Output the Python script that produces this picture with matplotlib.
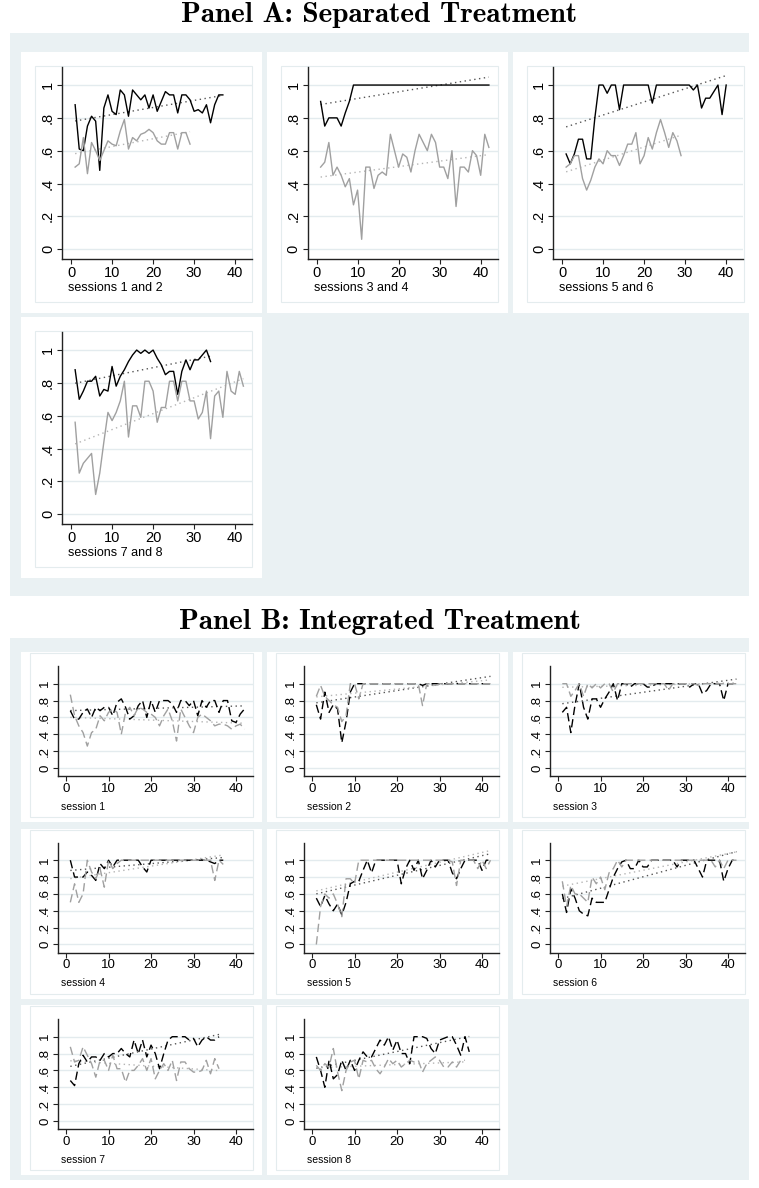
import numpy as np
import matplotlib.pyplot as plt
from matplotlib.patches import Rectangle

# Panel A: separated treatment (black = first session, gray = second session)
a12_black = [0.88, 0.61, 0.60, 0.75, 0.81, 0.78, 0.48, 0.86, 0.94, 0.84, 0.82, 0.97, 0.94, 0.81,
             0.97, 0.94, 0.91, 0.94, 0.86, 0.94, 0.84, 0.90, 0.96, 0.94, 0.94, 0.83, 0.94, 0.94,
             0.91, 0.84, 0.85, 0.83, 0.88, 0.77, 0.88, 0.94, 0.94]
a12_gray = [0.50, 0.52, 0.68, 0.46, 0.65, 0.60, 0.54, 0.60, 0.66, 0.64, 0.63, 0.72, 0.79, 0.61,
            0.68, 0.66, 0.70, 0.71, 0.73, 0.71, 0.66, 0.64, 0.64, 0.71, 0.71, 0.61, 0.71, 0.71, 0.64]
a34_black = [0.90, 0.75, 0.80, 0.80, 0.80, 0.75, 0.83, 0.90] + [1.0] * 34
a34_gray = [0.50, 0.53, 0.65, 0.45, 0.50, 0.45, 0.38, 0.43, 0.27, 0.36, 0.06, 0.50, 0.50, 0.37,
            0.45, 0.47, 0.45, 0.70, 0.60, 0.50, 0.58, 0.56, 0.47, 0.60, 0.70, 0.65, 0.60, 0.70,
            0.65, 0.50, 0.50, 0.43, 0.60, 0.26, 0.50, 0.50, 0.47, 0.60, 0.57, 0.45, 0.70, 0.62]
a56_black = [0.58, 0.52, 0.58, 0.67, 0.67, 0.55, 0.55, 0.80, 1.0, 1.0, 0.95, 1.0, 1.0, 0.85,
             1.0, 1.0, 1.0, 1.0, 1.0, 1.0, 1.0, 0.89, 1.0, 1.0, 1.0, 1.0, 1.0, 1.0, 1.0, 1.0,
             1.0, 0.97, 1.0, 0.86, 0.92, 0.92, 0.96, 1.0, 0.82, 1.0]
a56_gray = [0.50, 0.52, 0.57, 0.57, 0.43, 0.36, 0.42, 0.50, 0.55, 0.52, 0.60, 0.57, 0.57, 0.51,
            0.57, 0.64, 0.64, 0.71, 0.52, 0.57, 0.68, 0.61, 0.71, 0.79, 0.71, 0.62, 0.71, 0.66, 0.57]
a78_black = [0.88, 0.70, 0.75, 0.81, 0.81, 0.84, 0.72, 0.76, 0.75, 0.90, 0.78, 0.84, 0.88, 0.93,
             0.97, 1.0, 0.98, 1.0, 0.98, 1.0, 0.95, 0.91, 0.85, 0.87, 0.87, 0.73, 0.87, 0.94,
             0.88, 0.94, 0.94, 0.97, 1.0, 0.93]
a78_gray = [0.56, 0.25, 0.31, 0.34, 0.37, 0.12, 0.25, 0.44, 0.62, 0.57, 0.62, 0.69, 0.81, 0.47,
            0.66, 0.66, 0.59, 0.81, 0.81, 0.75, 0.56, 0.65, 0.65, 0.81, 0.81, 0.69, 0.81, 0.81,
            0.69, 0.69, 0.58, 0.62, 0.75, 0.46, 0.72, 0.75, 0.59, 0.87, 0.75, 0.73, 0.87, 0.78]
notes_a = ['sessions 1 and 2', 'sessions 3 and 4', 'sessions 5 and 6', 'sessions 7 and 8']

# Panel B: integrated treatment
b1_black = [0.68, 0.58, 0.58, 0.66, 0.70, 0.60, 0.72, 0.68, 0.72, 0.72, 0.62, 0.78, 0.82, 0.72,
            0.58, 0.62, 0.74, 0.80, 0.60, 0.80, 0.66, 0.80, 0.80, 0.80, 0.76, 0.66, 0.80, 0.80,
            0.74, 0.80, 0.62, 0.80, 0.72, 0.80, 0.80, 0.66, 0.80, 0.80, 0.56, 0.54, 0.64, 0.70]
b1_gray = [0.87, 0.62, 0.50, 0.42, 0.26, 0.42, 0.46, 0.62, 0.56, 0.66, 0.70, 0.66, 0.40, 0.66,
           0.72, 0.62, 0.72, 0.70, 0.66, 0.64, 0.60, 0.50, 0.62, 0.70, 0.56, 0.32, 0.70, 0.60,
           0.50, 0.42, 0.60, 0.64, 0.60, 0.56, 0.50, 0.52, 0.52, 0.50, 0.46, 0.50, 0.52, 0.46]
b2_black = [0.75, 0.58, 0.90, 0.66, 0.75, 0.70, 0.30, 0.55, 0.90] + [1.0] * 16 + [0.98] + [1.0] * 16
b2_gray = ([0.85, 0.98, 0.85, 0.80, 0.75, 0.72, 0.55, 0.62, 1.0, 1.0, 0.82] + [1.0] * 14
           + [0.74, 1.0, 1.0, 0.98] + [1.0] * 13)
b3_black = ([0.66, 0.72, 0.42, 0.75, 1.0, 0.72, 0.58, 0.82, 0.82, 0.72, 0.82, 0.90, 1.0, 0.80,
             1.0, 1.0, 0.96, 1.0, 1.0, 1.0, 0.96, 0.96] + [1.0] * 8
            + [0.96, 1.0, 1.0, 0.88, 0.92, 1.0, 1.0, 1.0, 0.80, 1.0, 1.0, 1.0])
b3_gray = ([1.0, 1.0, 0.85, 0.92, 1.0, 0.85, 1.0, 0.95, 1.0, 0.95, 1.0, 1.0, 0.90] + [1.0] * 12
           + [0.92] + [1.0] * 6 + [0.98] + [1.0] * 9)
b4_black = ([1.0, 0.80, 0.80, 0.80, 0.86, 0.82, 0.76, 0.96, 0.90, 1.0, 0.92] + [1.0] * 6
            + [0.92, 0.86] + [1.0] * 14 + [0.98, 0.96, 1.0, 1.0])
b4_gray = ([0.50, 0.72, 0.50, 0.60, 1.0, 0.86, 0.78, 0.90, 0.68, 1.0, 0.90, 0.96] + [1.0] * 22
           + [0.76, 1.0, 0.95])
b5_black = [0.55, 0.45, 0.58, 0.48, 0.40, 0.48, 0.35, 0.50, 0.72, 0.75, 0.75, 0.88, 1.0, 0.85,
            1.0, 1.0, 1.0, 1.0, 1.0, 1.0, 0.72, 0.90, 1.0, 0.88, 1.0, 0.78, 0.88, 1.0, 0.92,
            1.0, 1.0, 1.0, 0.85, 0.78, 0.90, 1.0, 1.0, 1.0, 1.0, 0.88, 1.0, 1.0]
b5_gray = ([0.0, 0.45, 0.60, 0.55, 0.60, 0.48, 0.33, 0.78, 0.78, 0.72] + [1.0] * 22
           + [0.98, 0.70, 1.0, 1.0, 1.0, 1.0, 0.90, 1.0, 0.90, 1.0])
b6_black = ([0.60, 0.38, 0.66, 0.55, 0.40, 0.36, 0.34, 0.55, 0.50, 0.50, 0.50, 0.65, 0.80, 0.90,
             0.98, 1.0, 0.90, 0.90, 1.0, 0.92, 0.92] + [1.0] * 6
            + [0.92, 1.0, 1.0, 1.0, 1.0, 0.90, 0.80, 1.0, 1.0, 1.0, 1.0, 0.75, 0.90, 1.0, 1.0])
b6_gray = ([0.75, 0.45, 0.70, 0.60, 0.60, 0.55, 0.50, 0.80, 0.72, 0.80, 0.65, 0.85, 0.90, 1.0,
            0.92] + [1.0] * 21 + [0.92, 1.0, 0.90, 1.0, 1.0, 1.0])
b7_black = [0.48, 0.42, 0.68, 0.78, 0.70, 0.76, 0.76, 0.72, 0.80, 0.76, 0.80, 0.80, 0.86, 0.80,
            0.76, 0.96, 0.80, 0.96, 0.76, 0.90, 0.80, 0.62, 0.80, 0.96, 1.0, 1.0, 1.0, 1.0,
            0.96, 0.98, 0.88, 0.96, 1.0, 0.96, 0.96, 1.0]
b7_gray = [0.88, 0.70, 0.72, 0.88, 0.78, 0.68, 0.52, 0.72, 0.72, 0.60, 0.78, 0.62, 0.62, 0.46,
           0.60, 0.60, 0.66, 0.74, 0.60, 0.74, 0.50, 0.60, 0.68, 0.60, 0.72, 0.48, 0.70, 0.70,
           0.62, 0.58, 0.58, 0.60, 0.72, 0.56, 0.74, 0.62]
b8_black = [0.76, 0.60, 0.40, 0.72, 0.50, 0.55, 0.72, 0.60, 0.72, 0.60, 0.72, 0.82, 0.76, 0.76,
            0.86, 0.96, 0.90, 1.0, 0.84, 0.96, 0.80, 0.80, 0.68, 1.0, 1.0, 1.0, 0.98, 0.86,
            0.80, 0.96, 0.98, 1.0, 1.0, 0.90, 0.78, 1.0, 0.82]
b8_gray = [0.66, 0.60, 0.68, 0.64, 0.86, 0.58, 0.36, 0.60, 0.70, 0.72, 0.50, 0.72, 0.70, 0.72,
           0.62, 0.56, 0.64, 0.74, 0.68, 0.72, 0.64, 0.68, 0.72, 0.70, 0.72, 0.58, 0.68, 0.72,
           0.76, 0.72, 0.64, 0.64, 0.70, 0.64, 0.72, 0.72]
notes_b = ['session %d' % i for i in range(1, 9)]

xticks = [0, 10, 20, 30, 40]
yticks = [0, 0.2, 0.4, 0.6, 0.8, 1.0]
ytick_labels = ['0', '.2', '.4', '.6', '.8', '1']

W, H = 759, 1188
BG = '#EAF1F3'
GRID = '#E3EBEE'
GRAY = '#A0A0A0'

fig = plt.figure(figsize=(W / 100, H / 100), dpi=100)
fig.patch.set_facecolor('white')


def rect(x, y, w, h, **kw):
    # pixel box, origin top-left; kept under the axes
    fig.patches.append(Rectangle((x / W, 1 - (y + h) / H), w / W, h / H,
                                 transform=fig.transFigure, zorder=-5, **kw))


def fx(x):
    return x / W


def fy(y):
    return 1 - y / H


def one_plot(ax, black, gray, xlim, ylim, dashed, lsize):
    ls = (0, (6, 3)) if dashed else '-'
    for vals, col, fitcol in [(black, 'black', '#555555'), (gray, GRAY, '#B5B5B5')]:
        x = np.arange(1, len(vals) + 1)
        y = np.array(vals)
        ax.plot(x, y, color=col, lw=1.0, ls=ls, zorder=3)
        b, a = np.polyfit(x, y, 1)
        ax.plot(x[[0, -1]], a + b * x[[0, -1]], color=fitcol, lw=1.0, ls=(0, (1, 2.5)), zorder=2)
    ax.set_xlim(*xlim)
    ax.set_ylim(*ylim)
    ax.set_xticks(xticks)
    ax.set_yticks(yticks)
    ax.set_yticklabels(ytick_labels, rotation=90, va='center')
    for s in ['top', 'right']:
        ax.spines[s].set_visible(False)
    for s in ['left', 'bottom']:
        ax.spines[s].set_color('#222222')
        ax.spines[s].set_linewidth(1.0)
    ax.tick_params(length=3.5, width=0.8, color='#222222', labelsize=lsize, pad=1.5)
    ax.yaxis.grid(True, color=GRID, lw=1.0)
    ax.set_axisbelow(True)
    for lab in ax.get_xticklabels() + ax.get_yticklabels():
        lab.set_family('Liberation Sans')


# ---- Panel A ----
fig.text(0.5, fy(15), 'Panel A: Separated Treatment', ha='center', va='center',
         family='cmb10', fontsize=21)
rect(10, 33, 739, 563, facecolor=BG, edgecolor='none')
panel_a = [(a12_black, a12_gray), (a34_black, a34_gray), (a56_black, a56_gray), (a78_black, a78_gray)]
for i, (bl, gr) in enumerate(panel_a):
    r, c = divmod(i, 3)
    cx, cy = 21 + 246 * c, 52 + 265 * r
    rect(cx, cy, min(241, 749 - cx), 261, facecolor='white', edgecolor='none')
    rect(cx + 14, cy + 14, 217, 236, facecolor='none', edgecolor='#E4ECEE', lw=0.8)
    left, top = 62 + 245.5 * c, 67 + 265 * r
    ax = fig.add_axes([fx(left), fy(top + 192), 190 / W, 192 / H])
    ax.patch.set_alpha(0)
    one_plot(ax, bl, gr, (-2.2, 44.1), (-0.06, 1.11), dashed=False, lsize=10.5)
    fig.text(fx(left + 6), fy(288 + 265 * r), notes_a[i], ha='left', va='center',
             family='Liberation Sans', fontsize=9)

# ---- Panel B ----
fig.text(0.5, fy(622), 'Panel B: Integrated Treatment', ha='center', va='center',
         family='cmb10', fontsize=21)
rect(10, 638, 739, 542, facecolor=BG, edgecolor='none')
panel_b = [(b1_black, b1_gray), (b2_black, b2_gray), (b3_black, b3_gray), (b4_black, b4_gray),
           (b5_black, b5_gray), (b6_black, b6_gray), (b7_black, b7_gray), (b8_black, b8_gray)]
for i, (bl, gr) in enumerate(panel_b):
    r, c = divmod(i, 3)
    cx, cy = 21 + 246 * c, 652 + 176.5 * r
    rect(cx, cy, min(241, 749 - cx), 170, facecolor='white', edgecolor='none')
    rect(cx + 9, cy + 1, 223, 164, facecolor='none', edgecolor='#E4ECEE', lw=0.8)
    left, top = 58 + 246 * c, 666 + 176.5 * r
    ax = fig.add_axes([fx(left), fy(top + 110), 195 / W, 110 / H])
    ax.patch.set_alpha(0)
    one_plot(ax, bl, gr, (-1.9, 44.0), (-0.095, 1.21), dashed=True, lsize=9.5)
    fig.text(fx(left + 3), fy(807 + 176.5 * r), notes_b[i], ha='left', va='center',
             family='Liberation Sans', fontsize=7.5)

fig.savefig('out.png', dpi=100)
